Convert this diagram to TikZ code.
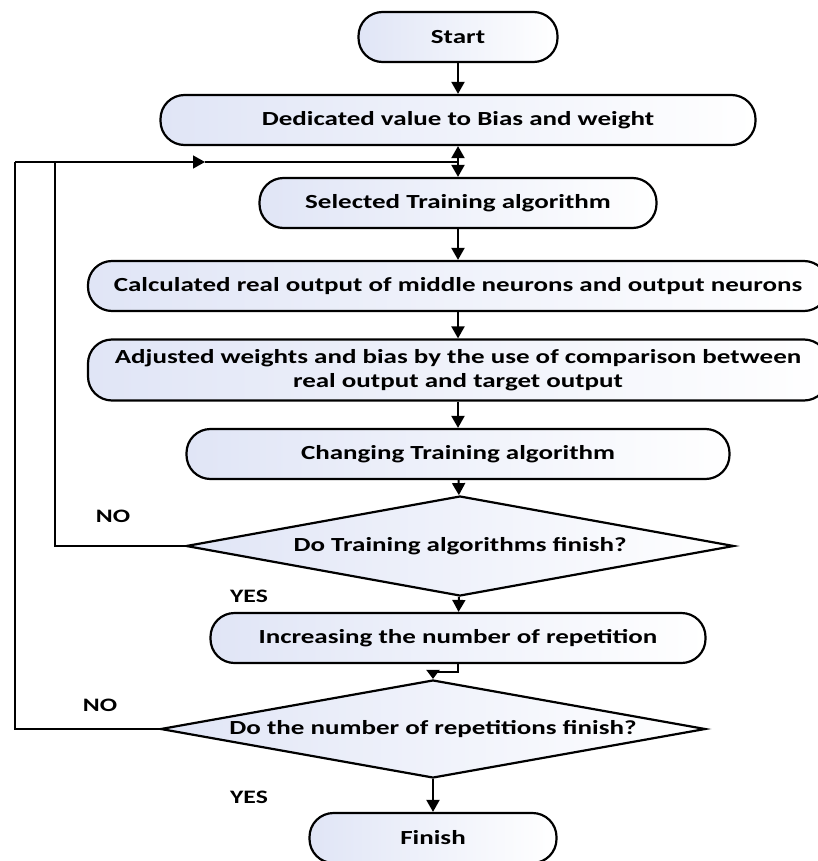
\documentclass[tikz,border=0pt]{standalone}
\usepackage{fontspec}
\setmainfont{Carlito}[FakeStretch=1.35]
\usetikzlibrary{shapes.geometric,arrows.meta,calc}
\definecolor{boxl}{RGB}{224,229,246}
\tikzset{
  pill/.style={draw=black, line width=2.2pt, rounded corners=24pt, left color=boxl, right color=white,
    minimum height=50pt, inner sep=0pt, align=center, font=\bfseries\fontsize{20}{24}\selectfont},
  dec/.style={draw=black, line width=2.2pt, shape=diamond, aspect=5.5, left color=boxl, right color=white,
    inner sep=0pt, align=center, font=\bfseries\fontsize{20}{24}\selectfont},
  flow/.style={line width=2pt, -{Triangle[width=13pt,length=12pt]}},
  thin/.style={line width=1.3pt},
  lbl/.style={font=\bfseries\fontsize{19}{22}\selectfont, inner sep=0pt}
}
\begin{document}
\begin{tikzpicture}[x=1pt,y=-1pt]
\useasboundingbox (0,0) rectangle (817,861);
\node[pill, minimum width=199pt] (start) at (458,37) {Start};
\node[pill, minimum width=595pt] (ded) at (458,120) {Dedicated value to Bias and weight};
\node[pill, minimum width=397pt] (sel) at (458,203) {Selected Training algorithm};
\node[pill, minimum width=740pt] (calc) at (458,286) {Calculated real output of middle neurons and output neurons};
\node[pill, minimum width=740pt, minimum height=61pt] (adj) at (458,370) {Adjusted weights and bias by the use of comparison between\\real output and target output};
\node[pill, minimum width=543pt] (chg) at (458,454) {Changing Training algorithm};
\node[dec, minimum width=548pt, minimum height=100pt] (d1) at (460,546) {Do Training algorithms finish?};
\node[pill, minimum width=495pt] (inc) at (458,638) {Increasing the number of repetition};
\node[dec, minimum width=545pt, minimum height=98pt] (d2) at (433,729) {Do the number of repetitions finish?};
\node[pill, minimum width=247pt] (fin) at (433,838) {Finish};

\coordinate (j) at (458,162);
\coordinate (a1) at (55,546);
\coordinate (a2) at (55,162);
\coordinate (b1) at (15,729);
\coordinate (b2) at (15,162);
\coordinate (m) at (205,162);
\coordinate (k) at (458,672);

\draw[flow] (start) -- (ded);
\draw[line width=2pt, {Triangle[width=13pt,length=12pt]}-{Triangle[width=13pt,length=12pt]}] (ded) -- (sel);
\draw[flow] (sel) -- (calc);
\draw[flow] (calc) -- (adj);
\draw[flow] (adj) -- (chg);
\draw[flow] (chg) -- (d1);
\draw[flow] (d1) -- (inc);
\draw[line width=2pt, -{Triangle[width=13pt,length=9pt]}] (inc.south) -- (k) -| (d2.north);
\draw[flow] (d2) -- (fin);

\draw[thin] (d1.west) -- (a1) -- (a2);
\draw[thin] (d2.west) -- (b1) -- (b2);
\draw[thin, -{Triangle[width=13pt,length=12pt]}] (b2) -- (m);
\draw[thin] (m) -- (j);

\node[lbl] (no1) at (113,516) {NO};
\node[lbl] (yes1) at (249,596) {YES};
\node[lbl] (no2) at (100,705) {NO};
\node[lbl] (yes2) at (249,797) {YES};
\end{tikzpicture}
\end{document}
